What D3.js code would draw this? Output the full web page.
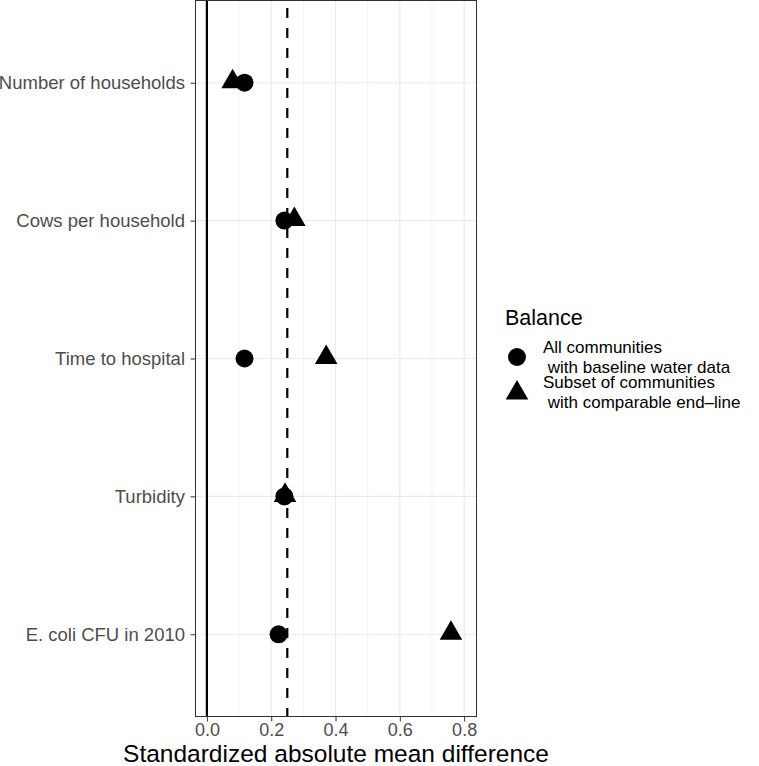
<!DOCTYPE html>
<html>
<head>
<meta charset="utf-8">
<script src="https://cdn.jsdelivr.net/npm/d3@7"></script>
<style>
  body { margin: 0; background: #fff; }
  text { font-family: "Liberation Sans", Arial, Helvetica, sans-serif; }
</style>
</head>
<body>
<div id="chart"></div>
<script>
// covariates, top to bottom
var covariates = ["Number of households", "Cows per household", "Time to hospital", "Turbidity", "E. coli CFU in 2010"];
// standardized absolute mean difference per group
var allCommunities = [0.117, 0.241, 0.117, 0.241, 0.223];
var subsetCommunities = [0.080, 0.272, 0.371, 0.243, 0.759];
var xTicks = [0.0, 0.2, 0.4, 0.6, 0.8];
var xMinor = [0.1, 0.3, 0.5, 0.7];
var threshold = 0.25;
var groups = ["All communities\n with baseline water data", "Subset of communities\n with comparable end\u2013line"];

var svgWidth = 759, svgHeight = 766;
var margin = { top: 0, right: 282, bottom: 49, left: 195 };
var width = svgWidth - margin.left - margin.right;
var height = svgHeight - margin.top - margin.bottom;

var svg = d3.select("#chart").append("svg")
  .attr("width", svgWidth)
  .attr("height", svgHeight);

var chartGroup = svg.append("g")
  .attr("transform", `translate(${margin.left}, ${margin.top})`);

// scales
var x = d3.scaleLinear().domain([-0.037, 0.84]).range([0, width]);
var y = d3.scalePoint().domain(covariates).range([0, height]).padding(0.6);

// grid
chartGroup.selectAll(".minor").data(xMinor).enter().append("line")
  .attr("x1", d => x(d)).attr("x2", d => x(d))
  .attr("y1", 0).attr("y2", height)
  .attr("stroke", "#ebebeb").attr("stroke-width", 0.6);
chartGroup.selectAll(".major").data(xTicks).enter().append("line")
  .attr("x1", d => x(d)).attr("x2", d => x(d))
  .attr("y1", 0).attr("y2", height)
  .attr("stroke", "#ebebeb").attr("stroke-width", 1.2);
chartGroup.selectAll(".hmajor").data(covariates).enter().append("line")
  .attr("x1", 0).attr("x2", width)
  .attr("y1", d => y(d)).attr("y2", d => y(d))
  .attr("stroke", "#ebebeb").attr("stroke-width", 1.2);

// reference lines
chartGroup.append("line")
  .attr("x1", x(0)).attr("x2", x(0)).attr("y1", 0).attr("y2", height)
  .attr("stroke", "#000").attr("stroke-width", 2.2);
chartGroup.append("line")
  .attr("x1", x(threshold)).attr("x2", x(threshold)).attr("y1", 0).attr("y2", height)
  .attr("stroke", "#000").attr("stroke-width", 2.2)
  .attr("stroke-dasharray", "10,10").attr("stroke-dashoffset", 12);

// points
var circleSym = d3.symbol().type(d3.symbolCircle).size(Math.PI * 9 * 9);
var triSym = d3.symbol().type(d3.symbolTriangle).size(220);

chartGroup.selectAll(".pt1").data(covariates).enter().append("path")
  .attr("d", circleSym)
  .attr("transform", (d, i) => `translate(${x(allCommunities[i])},${y(d)})`)
  .attr("fill", "#000");
chartGroup.selectAll(".pt2").data(covariates).enter().append("path")
  .attr("d", triSym)
  .attr("transform", (d, i) => `translate(${x(subsetCommunities[i])},${y(d) - 1})`)
  .attr("fill", "#000");

// panel border
chartGroup.append("rect")
  .attr("x", 0.5).attr("y", 0.5).attr("width", width - 1).attr("height", height - 1)
  .attr("fill", "none").attr("stroke", "#333").attr("stroke-width", 1);

// axes
var bottomAxis = d3.axisBottom(x).tickValues(xTicks).tickFormat(d3.format(".1f")).tickSize(4.5).tickPadding(2);
var xAxis = chartGroup.append("g")
  .attr("transform", `translate(0, ${height})`)
  .call(bottomAxis);
xAxis.select(".domain").remove();
xAxis.selectAll("line").attr("stroke", "#333").attr("stroke-width", 1);
xAxis.selectAll("text").attr("fill", "#4d4d4d").attr("font-size", "18px")
  .style("font-family", "'Liberation Sans', Arial, sans-serif");

var leftAxis = d3.axisLeft(y).tickSize(4.5).tickPadding(5.5);
var yAxis = chartGroup.append("g").call(leftAxis);
yAxis.select(".domain").remove();
yAxis.selectAll("line").attr("stroke", "#333").attr("stroke-width", 1);
yAxis.selectAll("text").attr("fill", "#4d4d4d").attr("font-size", "18.5px")
  .style("font-family", "'Liberation Sans', Arial, sans-serif");

// axis title
svg.append("text")
  .attr("x", margin.left + width / 2)
  .attr("y", 761.5)
  .attr("text-anchor", "middle")
  .attr("font-size", "24.5px")
  .attr("fill", "#000")
  .text("Standardized absolute mean difference");

// legend
var legend = svg.append("g").attr("transform", "translate(505, 0)");
legend.append("text")
  .attr("x", 0).attr("y", 325)
  .attr("font-size", "21.5px")
  .attr("fill", "#000")
  .text("Balance");

var keySyms = [circleSym, triSym];
var keyY = [357, 393];
var textY = [353, 388];
groups.forEach(function (g, i) {
  legend.append("path")
    .attr("d", keySyms[i])
    .attr("transform", `translate(12, ${keyY[i]})`)
    .attr("fill", "#000");
  var lines = g.split("\n");
  var t = legend.append("text")
    .attr("x", 38)
    .attr("y", textY[i])
    .attr("font-size", "17px")
    .attr("fill", "#000");
  lines.forEach(function (ln, j) {
    t.append("tspan")
      .attr("x", 38)
      .attr("dy", j === 0 ? 0 : 19.5)
      .attr("xml:space", "preserve")
      .style("white-space", "pre")
      .text(ln);
  });
});
</script>
</body>
</html>
